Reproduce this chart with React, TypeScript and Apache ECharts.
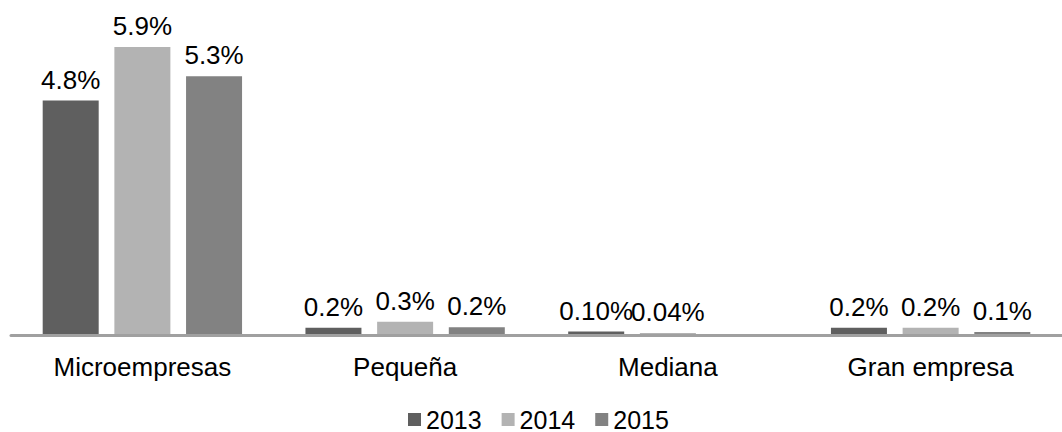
import React, { useEffect, useRef } from "react";
import * as echarts from "echarts";

const categories = ["Microempresas", "Pequeña", "Mediana", "Gran empresa"];
const seriesNames = ["2013", "2014", "2015"];
const values2013 = [4.8, 0.15, 0.07, 0.15];
const values2014 = [5.9, 0.27, 0.04, 0.15];
const values2015 = [5.3, 0.16, null, 0.06];
const labels2013 = ["4.8%", "0.2%", "0.10%", "0.2%"];
const labels2014 = ["5.9%", "0.3%", "0.04%", "0.2%"];
const labels2015 = ["5.3%", "0.2%", "", "0.1%"];
const colors = ["#5f5f5f", "#b3b3b3", "#828282"];

const FONT = "'Liberation Sans', Arial, sans-serif";

export default function App() {
  const ref = useRef<HTMLDivElement>(null);
  useEffect(() => {
    if (!ref.current) return;
    const chart = echarts.init(ref.current, null, { renderer: "svg" });
    const vals = [values2013, values2014, values2015];
    const labs = [labels2013, labels2014, labels2015];
    chart.setOption({
      animation: false,
      textStyle: { fontFamily: FONT },
      legend: {
        data: seriesNames,
        left: 408,
        top: 407,
        padding: 0,
        icon: "rect",
        itemWidth: 13,
        itemHeight: 13,
        itemGap: 20,
        textStyle: { fontSize: 25, lineHeight: 24, color: "#000", fontFamily: FONT },
      },
      grid: { left: 11, right: -13, top: 42, bottom: 97, containLabel: false },
      xAxis: {
        type: "category",
        data: categories,
        z: 5,
        axisLine: { lineStyle: { color: "#a0a0a0", width: 3 } },
        axisTick: { show: false },
        axisLabel: { fontSize: 26, color: "#000", margin: 19, fontFamily: FONT },
      },
      yAxis: {
        type: "value",
        min: 0,
        max: 6,
        show: false,
        splitLine: { show: false },
      },
      series: seriesNames.map((name, i) => ({
        name,
        type: "bar",
        data: vals[i],
        barWidth: 56,
        barGap: "28%",
        itemStyle: { color: colors[i] },
        label: {
          show: true,
          position: "top",
          distance: 8,
          fontSize: 26,
          color: "#000",
          fontFamily: FONT,
          formatter: (p: any) => labs[i][p.dataIndex],
        },
      })),
    });
    return () => chart.dispose();
  }, []);
  return (
    <div
      ref={ref}
      style={{ position: "fixed", left: 0, top: 0, width: 1062, height: 432, background: "#fff" }}
    />
  );
}
